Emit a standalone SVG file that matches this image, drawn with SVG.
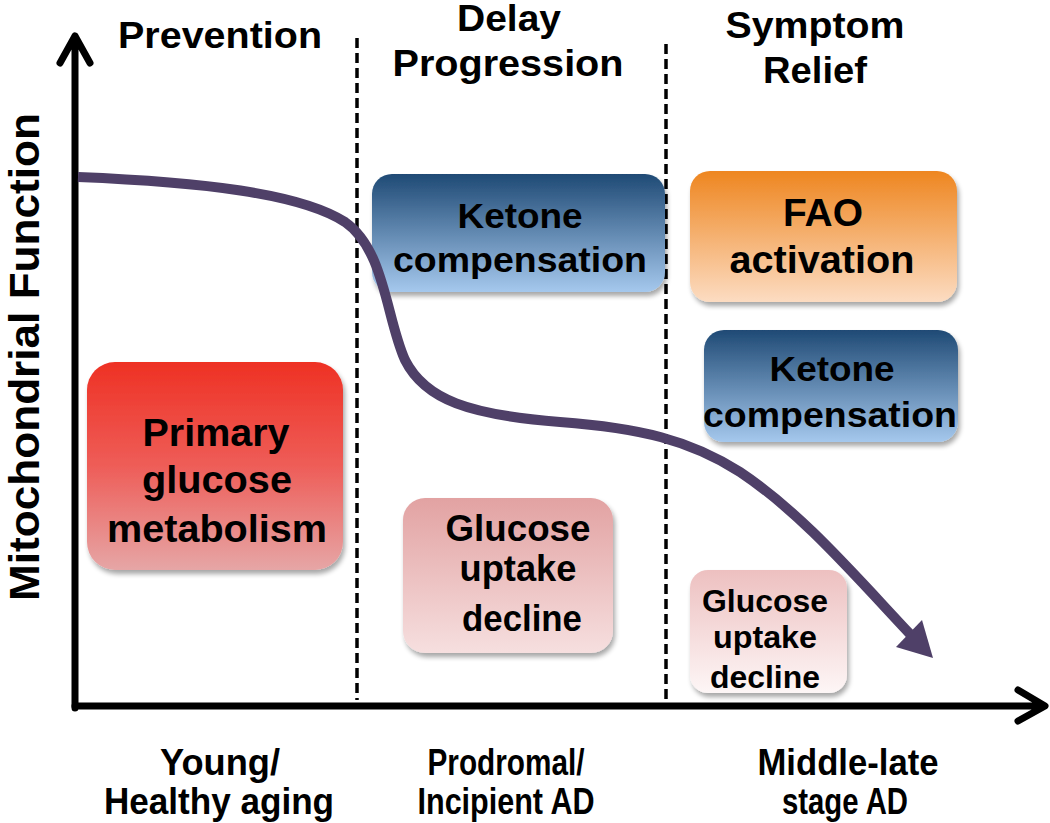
<svg xmlns="http://www.w3.org/2000/svg" width="1050" height="823" viewBox="0 0 1050 823">
<defs>
<style>
text{font-family:"Liberation Sans",Arial,Helvetica,sans-serif;font-weight:bold;fill:#000;text-anchor:middle}
.hdr{font-size:37px}
.bot{font-size:36px}
.axis{stroke:#000;stroke-width:7;fill:none;stroke-linecap:round;stroke-linejoin:round}
.dash{stroke:#000;stroke-width:3.5;stroke-dasharray:10 5;fill:none}
.box{filter:url(#sh)}
</style>
<filter id="sh" x="-10%" y="-10%" width="125%" height="130%">
<feGaussianBlur in="SourceAlpha" stdDeviation="2.5"/>
<feOffset dx="2" dy="4" result="b"/>
<feComponentTransfer><feFuncA type="linear" slope="0.35"/></feComponentTransfer>
<feMerge><feMergeNode/><feMergeNode in="SourceGraphic"/></feMerge>
</filter>
<linearGradient id="gBlue" x1="0" y1="0" x2="0" y2="1"><stop offset="0" stop-color="#1f4a75"/><stop offset="1" stop-color="#a5c8ed"/></linearGradient>
<linearGradient id="gOrange" x1="0" y1="0" x2="0" y2="1"><stop offset="0" stop-color="#ee8620"/><stop offset="1" stop-color="#fcdcc2"/></linearGradient>
<linearGradient id="gRed" x1="0" y1="0" x2="0" y2="1"><stop offset="0" stop-color="#ee3124"/><stop offset="0.5" stop-color="#ee5d58"/><stop offset="1" stop-color="#e6a6a6"/></linearGradient>
<linearGradient id="gPink" x1="0" y1="0" x2="0" y2="1"><stop offset="0" stop-color="#e2a2a2"/><stop offset="1" stop-color="#f6dfdf"/></linearGradient>
<linearGradient id="gPale" x1="0" y1="0" x2="0" y2="1"><stop offset="0" stop-color="#edc0c0"/><stop offset="1" stop-color="#fdf6f6"/></linearGradient>
</defs>
<rect width="1050" height="823" fill="#fff"/>

<g id="axes">
<path class="axis" d="M75,708 V36 M60,63 L75,36 L90,63"/>
<path class="axis" d="M75,706 H1044 M1018,690 L1045,706 L1018,721"/>
<path class="dash" d="M357,38 V700"/>
<path class="dash" d="M666,44 V700"/>
</g>

<g id="headers">
<text class="hdr" x="220" y="48" textLength="204" lengthAdjust="spacingAndGlyphs">Prevention</text>
<text class="hdr" x="509" y="31" textLength="104" lengthAdjust="spacingAndGlyphs">Delay</text>
<text class="hdr" x="508" y="76" textLength="231" lengthAdjust="spacingAndGlyphs">Progression</text>
<text class="hdr" x="815" y="38" textLength="179" lengthAdjust="spacingAndGlyphs">Symptom</text>
<text class="hdr" x="815" y="83" textLength="104" lengthAdjust="spacingAndGlyphs">Relief</text>
</g>

<g id="ylabel">
<text x="0" y="0" font-size="43" transform="translate(39,357) rotate(-90)" textLength="488" lengthAdjust="spacingAndGlyphs">Mitochondrial Function</text>
</g>

<g id="xlabels">
<text class="bot" x="220" y="775" textLength="120" lengthAdjust="spacingAndGlyphs">Young/</text>
<text class="bot" x="219" y="814" textLength="230" lengthAdjust="spacingAndGlyphs">Healthy aging</text>
<text class="bot" x="506" y="775" textLength="157" lengthAdjust="spacingAndGlyphs">Prodromal/</text>
<text class="bot" x="506" y="814" textLength="177" lengthAdjust="spacingAndGlyphs">Incipient AD</text>
<text class="bot" x="848" y="775" textLength="181" lengthAdjust="spacingAndGlyphs">Middle-late</text>
<text class="bot" x="845" y="814" textLength="126" lengthAdjust="spacingAndGlyphs">stage AD</text>
</g>

<g id="node-primary">
<rect class="box" x="87" y="362" width="256" height="208" rx="28" fill="url(#gRed)"/>
<text x="216" y="446" font-size="38" textLength="147" lengthAdjust="spacingAndGlyphs">Primary</text>
<text x="217" y="493" font-size="38" textLength="150" lengthAdjust="spacingAndGlyphs">glucose</text>
<text x="217" y="542" font-size="38" textLength="220" lengthAdjust="spacingAndGlyphs">metabolism</text>
</g>

<g id="node-ketone-mid">
<rect class="box" x="372" y="174" width="293" height="118" rx="20" fill="url(#gBlue)"/>
<text x="520" y="228" font-size="35" textLength="125" lengthAdjust="spacingAndGlyphs">Ketone</text>
<text x="520" y="272" font-size="35" textLength="254" lengthAdjust="spacingAndGlyphs">compensation</text>
</g>

<g id="node-glucose-mid">
<rect class="box" x="403" y="498" width="210" height="155" rx="22" fill="url(#gPink)"/>
<text x="518" y="541" font-size="36" textLength="145" lengthAdjust="spacingAndGlyphs">Glucose</text>
<text x="518" y="581" font-size="36" textLength="117" lengthAdjust="spacingAndGlyphs">uptake</text>
<text x="522" y="631" font-size="36" textLength="120" lengthAdjust="spacingAndGlyphs">decline</text>
</g>

<g id="node-fao">
<rect class="box" x="690" y="171" width="267" height="131" rx="20" fill="url(#gOrange)"/>
<text x="823" y="226" font-size="38" textLength="80" lengthAdjust="spacingAndGlyphs">FAO</text>
<text x="822" y="273" font-size="38" textLength="185" lengthAdjust="spacingAndGlyphs">activation</text>
</g>

<g id="node-ketone-right">
<rect class="box" x="704" y="330" width="254" height="112" rx="20" fill="url(#gBlue)"/>
<text x="832" y="381" font-size="35" textLength="125" lengthAdjust="spacingAndGlyphs">Ketone</text>
<text x="830" y="427" font-size="35" textLength="254" lengthAdjust="spacingAndGlyphs">compensation</text>
</g>

<g id="node-glucose-right">
<rect class="box" x="690" y="570" width="157" height="123" rx="18" fill="url(#gPale)"/>
<text x="765" y="612" font-size="31" textLength="126" lengthAdjust="spacingAndGlyphs">Glucose</text>
<text x="765" y="648" font-size="31" textLength="104" lengthAdjust="spacingAndGlyphs">uptake</text>
<text x="765" y="688" font-size="31" textLength="110" lengthAdjust="spacingAndGlyphs">decline</text>
</g>

<g id="connectors">
<path d="M78,177 C200,182 300,193 345,222 C385,250 386,318 405,360 C425,400 470,415 560,422 C640,428 690,440 740,472 C800,512 850,570 910,634" fill="none" stroke="#4f4068" stroke-width="10"/>
<polygon points="933,658 896,647 922,620" fill="#4f4068"/>
</g>
</svg>
